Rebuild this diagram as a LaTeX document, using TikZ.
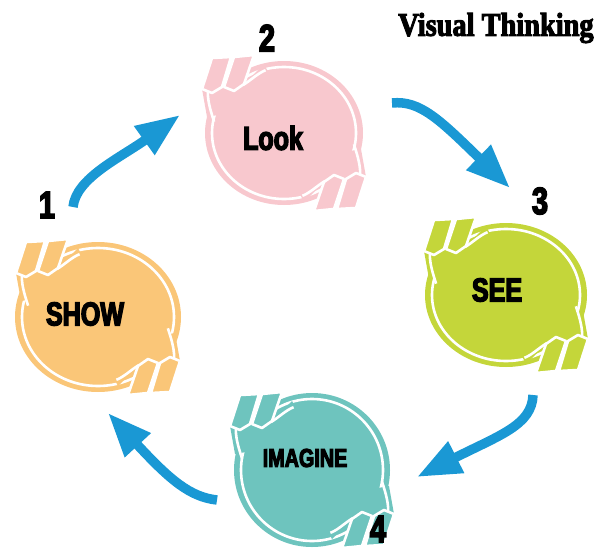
\documentclass[tikz,border=0pt]{standalone}
\usepackage{fontspec}
\newfontfamily\labelfont[FakeStretch=0.76,FakeBold=4]{Liberation Sans Bold}
\newfontfamily\titlefont[FakeStretch=0.86,FakeBold=3]{Liberation Serif Bold}
\usetikzlibrary{arrows.meta,
                shapes.geometric,positioning}
\definecolor{lookpink}{RGB}{248,200,206}
\definecolor{showorange}{RGB}{250,198,120}
\definecolor{seegreen}{RGB}{196,214,58}
\definecolor{imagineteal}{RGB}{110,196,190}
\definecolor{arrowblue}{RGB}{26,152,212}

\begin{document}
\begin{tikzpicture}[x=1pt,y=-1pt]
  \tikzset{StepDisc/.style = {shape          = ellipse,
                              draw           = none,
                              inner sep      = 0pt,
                              minimum width  = 158pt,
                              minimum height = 144pt},
           StepText/.style = {font=\labelfont\fontsize{33}{33}\selectfont, text=black, inner sep=0pt},
           NumText/.style  = {font=\labelfont\fontsize{38}{38}\selectfont, text=black, inner sep=0pt},
           WhiteRing/.style = {white, line width=2.6pt},
           corner/.pic     = {%
             \fill[pic actions] (-82,-44) -- (-40,-49) -- (-20,-69) -- (0,-30) -- (-77,-16) -- cycle;
             \draw[WhiteRing] (-69.9,-11.3) .. controls (-74,-24) and (-77,-34) .. (-76,-45);
             \draw[WhiteRing] (-41,-48) .. controls (-34,-52) and (-26,-60) .. (-18.4,-62.8);
             \filldraw[pic actions, draw=white, line width=2.6pt, line join=round]
               (-82,-44) -- (-72,-40) -- (-62,-46) -- (-53,-76) -- (-72,-75) -- cycle
               (-60,-46) -- (-50,-42) -- (-40,-49) -- (-30,-78) -- (-50,-76) -- cycle;},
           CycleArrow/.style = {draw=arrowblue, line width=9.5pt,
                                -{Triangle[length=44pt,width=33pt]}}}
  \useasboundingbox (0,0) rectangle (599,551);
  %%% TITRE %%%
  \node[font=\titlefont\fontsize{33}{33}\selectfont, inner sep=0pt] (title) at (496,28) {Visual Thinking};
  %%% CERCLES %%%
  \node[StepDisc, fill=lookpink, label={[StepText, xshift=-11pt, yshift=-5pt]center:Look}] (look) at (284,133) {};
  \node[StepDisc, fill=seegreen, minimum width=162pt, label={[StepText, xshift=-9pt, yshift=5pt]center:SEE}] (see) at (506,295) {};
  \node[StepDisc, fill=imagineteal, minimum width=156pt, minimum height=154pt, label={[StepText, font=\labelfont\fontsize{26}{26}\selectfont, xshift=-7pt, yshift=12pt]center:IMAGINE}] (imagine) at (312,470) {};
  \node[StepDisc, fill=showorange, minimum width=166pt, minimum height=150pt, label={[StepText, xshift=-13pt, yshift=3pt]center:SHOW}] (show) at (98,317) {};
  %
  \foreach \c/\col/\rx/\ry in {look/lookpink/72/66, see/seegreen/74/66, imagine/imagineteal/71/71, show/showorange/76/69}{
    \draw[WhiteRing] (\c.center) ellipse [x radius=\rx, y radius=\ry];
    \pic[fill=\col] at (\c.center) {corner};
    \pic[fill=\col, rotate=180] at (\c.center) {corner};
  }
  %%% NUMEROS %%%
  \node[NumText] (n1) at (47,205) {1};
  \node[NumText] (n2) at (267,38) {2};
  \node[NumText] (n3) at (540,201) {3};
  \node[NumText] (n4) at (378,529) {4};
  %%% FLECHES %%%
  \coordinate (t1) at (73,207);  \coordinate (h1) at (180,115);
  \coordinate (t2) at (392,103); \coordinate (h2) at (510,188);
  \coordinate (t3) at (533,395); \coordinate (h3) at (417,477);
  \coordinate (t4) at (217,500); \coordinate (h4) at (108,413);
  \draw[CycleArrow] (t1) .. controls (76,178) and (120,158) .. (h1);
  \draw[CycleArrow] (t2) .. controls (420,100) and (440,120) .. (h2);
  \draw[CycleArrow] (t3) .. controls (532,425) and (500,435) .. (h3);
  \draw[CycleArrow] (t4) .. controls (190,497) and (170,480) .. (h4);
\end{tikzpicture}
\end{document}
